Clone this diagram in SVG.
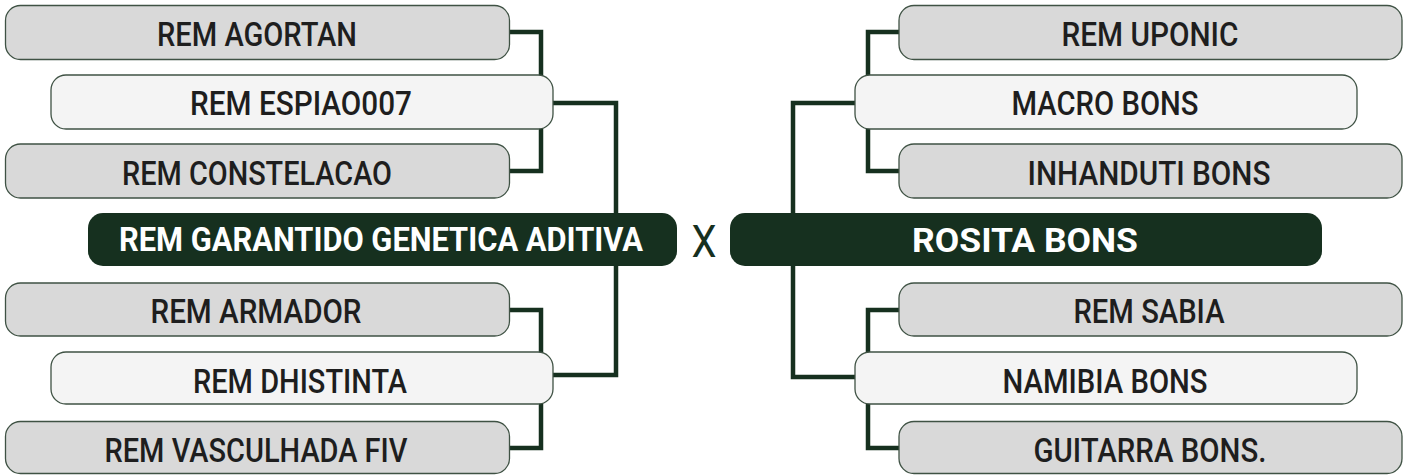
<svg xmlns="http://www.w3.org/2000/svg" width="1410" height="475" viewBox="0 0 1410 475">
<style>
.outer{fill:#d9d9d9;stroke:#3f5244;stroke-width:1.3}
.mid{fill:#f4f4f4;stroke:#3f5244;stroke-width:1.3}
.main{fill:#16301f}
.lbl{font-family:Roboto,"Liberation Sans",sans-serif;font-weight:500;font-size:33px;fill:#1e1e1e;text-anchor:middle}
.mlbl{font-family:Roboto,"Liberation Sans",sans-serif;font-weight:700;font-size:33px;fill:#ffffff;text-anchor:middle}
.con{fill:none;stroke:#16301f;stroke-width:4.5;stroke-linejoin:miter}
</style>
<rect width="1410" height="475" fill="#ffffff"/>
<g id="connectors">
<path class="con" d="M509,32 H541 V171 H509"/>
<path class="con" d="M553,103 H616 V375 H553"/>
<path class="con" d="M509,310 H541 V448 H509"/>
<path class="con" d="M899,32 H868 V171 H899"/>
<path class="con" d="M855,103 H793 V377 H855"/>
<path class="con" d="M899,310 H868 V448 H899"/>
</g>
<g id="n-agortan"><rect class="outer" x="5.5" y="5.5" width="504" height="54" rx="15"/><text class="lbl" x="257" y="46" textLength="200" lengthAdjust="spacingAndGlyphs">REM AGORTAN</text></g>
<g id="n-espiao"><rect class="mid" x="51" y="75" width="502" height="54" rx="15"/><text class="lbl" x="301" y="115" textLength="222" lengthAdjust="spacingAndGlyphs">REM ESPIAO007</text></g>
<g id="n-constelacao"><rect class="outer" x="5.5" y="144" width="504" height="54" rx="15"/><text class="lbl" x="257" y="184.5" textLength="270" lengthAdjust="spacingAndGlyphs">REM CONSTELACAO</text></g>
<g id="n-garantido"><rect class="main" x="88" y="213" width="589" height="53" rx="15"/><text class="mlbl" x="381" y="251" textLength="524" lengthAdjust="spacingAndGlyphs">REM GARANTIDO GENETICA ADITIVA</text></g>
<g id="n-armador"><rect class="outer" x="5.5" y="283" width="504" height="53" rx="15"/><text class="lbl" x="256" y="323" textLength="211" lengthAdjust="spacingAndGlyphs">REM ARMADOR</text></g>
<g id="n-dhistinta"><rect class="mid" x="51" y="352" width="502" height="52" rx="15"/><text class="lbl" x="300" y="392.5" textLength="214" lengthAdjust="spacingAndGlyphs">REM DHISTINTA</text></g>
<g id="n-vasculhada"><rect class="outer" x="5.5" y="421.5" width="504" height="52" rx="15"/><text class="lbl" x="256" y="461.5" textLength="303" lengthAdjust="spacingAndGlyphs">REM VASCULHADA FIV</text></g>
<text id="vs" x="704" y="257" font-family="Roboto,'Liberation Sans',sans-serif" font-size="44" fill="#16301f" text-anchor="middle" textLength="25" lengthAdjust="spacingAndGlyphs">X</text>
<g id="n-rosita"><rect class="main" x="730" y="213" width="592" height="53" rx="15"/><text class="mlbl" x="1025" y="251.5" font-size="34" textLength="226" lengthAdjust="spacingAndGlyphs">ROSITA BONS</text></g>
<g id="n-uponic"><rect class="outer" x="899" y="5.5" width="503" height="54" rx="15"/><text class="lbl" x="1150" y="46" textLength="177" lengthAdjust="spacingAndGlyphs">REM UPONIC</text></g>
<g id="n-macro"><rect class="mid" x="855" y="75" width="502" height="54" rx="15"/><text class="lbl" x="1105" y="115" textLength="187" lengthAdjust="spacingAndGlyphs">MACRO BONS</text></g>
<g id="n-inhanduti"><rect class="outer" x="899" y="144" width="503" height="54" rx="15"/><text class="lbl" x="1149" y="184.5" textLength="243" lengthAdjust="spacingAndGlyphs">INHANDUTI BONS</text></g>
<g id="n-sabia"><rect class="outer" x="899" y="283" width="503" height="53" rx="15"/><text class="lbl" x="1149" y="323" textLength="151" lengthAdjust="spacingAndGlyphs">REM SABIA</text></g>
<g id="n-namibia"><rect class="mid" x="855" y="352" width="502" height="52" rx="15"/><text class="lbl" x="1105" y="392.5" textLength="205" lengthAdjust="spacingAndGlyphs">NAMIBIA BONS</text></g>
<g id="n-guitarra"><rect class="outer" x="899" y="421.5" width="503" height="52" rx="15"/><text class="lbl" x="1150" y="461.5" textLength="233" lengthAdjust="spacingAndGlyphs">GUITARRA BONS.</text></g>
</svg>
